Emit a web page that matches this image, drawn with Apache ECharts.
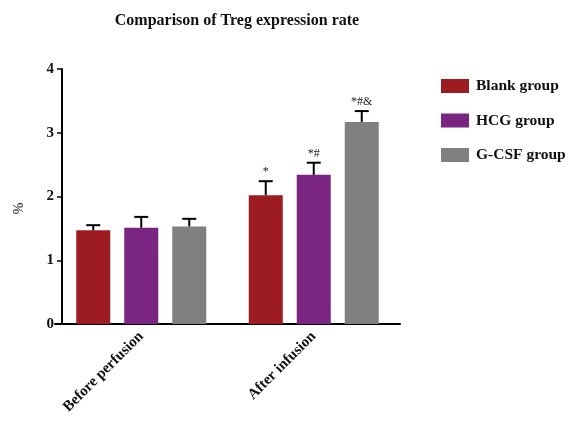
<!DOCTYPE html>
<html>
<head>
<meta charset="utf-8">
<script src="https://cdn.jsdelivr.net/npm/echarts@6/dist/echarts.min.js"></script>
<style>
  html, body { margin: 0; padding: 0; background: #fff; }
  #chart { width: 582px; height: 436px; }
</style>
</head>
<body>
<div id="chart"></div>
<script>
  // 分组
  var categories = ['Before perfusion', 'After infusion'];
  var groupNames = ['Blank group', 'HCG group', 'G-CSF group'];
  // 均值
  var blankValues = [1.47, 2.02];
  var hcgValues = [1.51, 2.34];
  var gcsfValues = [1.53, 3.17];
  // 误差
  var blankErr = [0.08, 0.22];
  var hcgErr = [0.17, 0.19];
  var gcsfErr = [0.12, 0.17];
  // 显著性标记
  var blankMarks = ['', '*'];
  var hcgMarks = ['', '*#'];
  var gcsfMarks = ['', '*#&'];
  var yTicks = [0, 1, 2, 3, 4];

  var colors = ['#9c1c21', '#7b2582', '#808080'];
  var font = '"Liberation Serif", "Times New Roman", serif';
  var barWidth = 34;
  var barGap = 14;

  var values = [blankValues, hcgValues, gcsfValues];
  var errs = [blankErr, hcgErr, gcsfErr];
  var marks = [blankMarks, hcgMarks, gcsfMarks];

  function errorSeries(k) {
    var data = values[k].map(function (v, i) { return [i, v, v + errs[k][i], marks[k][i]]; });
    return {
      type: 'custom',
      name: groupNames[k] + ' err',
      data: data,
      z: 5,
      renderItem: function (params, api) {
        var off = (k - 1) * (barWidth + barGap);
        var base = api.coord([api.value(0), api.value(1)]);
        var top = api.coord([api.value(0), api.value(2)]);
        var x = base[0] + off;
        var children = [
          { type: 'line', shape: { x1: x, y1: base[1], x2: x, y2: top[1] }, style: { stroke: '#000', lineWidth: 2 } },
          { type: 'line', shape: { x1: x - 7, y1: top[1], x2: x + 7, y2: top[1] }, style: { stroke: '#000', lineWidth: 2 } }
        ];
        var m = data[params.dataIndex][3];
        if (m) {
          children.push({
            type: 'text',
            style: { text: m, x: x, y: top[1] - 3, align: 'center', verticalAlign: 'bottom',
                     font: '12px ' + font, fill: '#222' }
          });
        }
        return { type: 'group', children: children };
      }
    };
  }

  var chart = echarts.init(document.getElementById('chart'));
  chart.setOption({
    animation: false,
    color: colors,
    title: {
      text: 'Comparison of Treg expression rate',
      left: 232, top: 8, textAlign: 'center',
      textStyle: { fontFamily: font, fontSize: 16, fontWeight: 'bold', color: '#111' }
    },
    legend: {
      data: groupNames,
      orient: 'vertical',
      left: 436, top: 73,
      itemWidth: 28, itemHeight: 14, itemGap: 18.5,
      icon: 'rect',
      textStyle: { fontFamily: font, fontSize: 15.5, fontWeight: 'bold', color: '#111', padding: [0, 0, 0, 2] }
    },
    grid: { left: 55, top: 69, right: 182, bottom: 112 },
    xAxis: {
      type: 'category',
      data: categories,
      axisLine: { lineStyle: { color: '#000', width: 2 } },
      axisTick: { alignWithLabel: true, length: 6, lineStyle: { color: '#000', width: 1.5 } },
      axisLabel: { rotate: 45, margin: 10, fontFamily: font, fontSize: 15, fontWeight: 'bold', color: '#111' }
    },
    yAxis: {
      type: 'value',
      min: yTicks[0], max: yTicks[yTicks.length - 1], interval: 1,
      offset: -7,
      name: '%',
      nameLocation: 'middle',
      nameGap: 36,
      nameTextStyle: { fontFamily: font, fontSize: 14, color: '#111', padding: [0, 24, 0, 0] },
      splitLine: { show: false },
      axisLine: { show: true, lineStyle: { color: '#000', width: 2 } },
      axisTick: { show: true, length: 5, lineStyle: { color: '#000', width: 1.5 } },
      axisLabel: { margin: 8, fontFamily: font, fontSize: 15, fontWeight: 'bold', color: '#111' }
    },
    series: [
      { name: groupNames[0], type: 'bar', data: blankValues, barWidth: barWidth, barGap: (barGap / barWidth * 100) + '%' },
      { name: groupNames[1], type: 'bar', data: hcgValues, barWidth: barWidth, barGap: (barGap / barWidth * 100) + '%' },
      { name: groupNames[2], type: 'bar', data: gcsfValues, barWidth: barWidth, barGap: (barGap / barWidth * 100) + '%' },
      errorSeries(0), errorSeries(1), errorSeries(2)
    ]
  });
</script>
</body>
</html>
